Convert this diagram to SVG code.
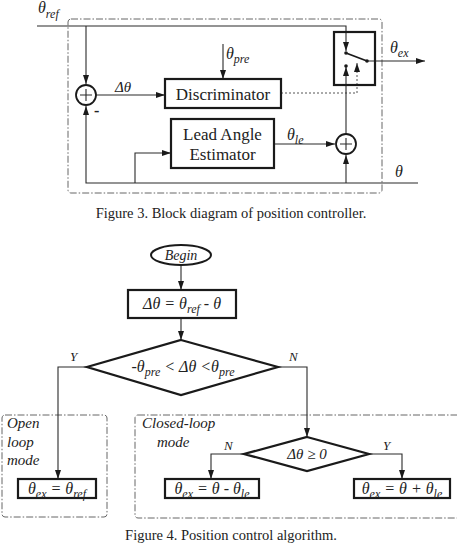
<svg xmlns="http://www.w3.org/2000/svg" width="457" height="549" viewBox="0 0 457 549">
<style>
.ln{fill:none;stroke:#2a2a2a;stroke-width:1.1}
.th{fill:#fff;stroke:#1a1a1a;stroke-width:2.2}
.dd{fill:none;stroke:#666;stroke-width:1;stroke-dasharray:7 2 1.5 2}
.dot{fill:none;stroke:#555;stroke-width:1;stroke-dasharray:2 2}
.t{font-family:"Liberation Serif","Times New Roman",serif;fill:#222}
.i{font-family:"Liberation Serif","Times New Roman",serif;font-style:italic;fill:#222}
.cap{font-family:"Liberation Serif","Times New Roman",serif;fill:#222;font-size:14.5px}
</style>
<defs>
<marker id="ar" markerUnits="userSpaceOnUse" markerWidth="10" markerHeight="8" refX="9" refY="4" orient="auto">
<path d="M0,1 L9,4 L0,7 z" fill="#1a1a1a"/>
</marker>
</defs>

<!-- Figure 3 -->
<rect class="dd" x="68" y="19" width="314" height="174" rx="3"/>

<g id="connectors-fig3">
<path class="ln" d="M37,26 H346 V51" marker-end="url(#ar)"/>
<path class="ln" d="M86,26 V84" marker-end="url(#ar)"/>
<path class="ln" d="M96,95 H165" marker-end="url(#ar)"/>
<path class="ln" d="M223,44 V79" marker-end="url(#ar)"/>
<path class="dot" d="M281,93 H357 V63" marker-end="url(#ar)"/>
<path class="ln" d="M418,183 H86 V106" marker-end="url(#ar)"/>
<path class="ln" d="M135,183 V153 H171" marker-end="url(#ar)"/>
<path class="ln" d="M274,144 H335" marker-end="url(#ar)"/>
<path class="ln" d="M346,183 V155" marker-end="url(#ar)"/>
<path class="ln" d="M346,134 V67" marker-end="url(#ar)"/>
<path class="ln" d="M367,61 H425" marker-end="url(#ar)"/>
</g>

<g id="sum1">
<circle cx="86" cy="95" r="10" fill="#fff" stroke="#1a1a1a" stroke-width="1.8"/>
<path class="ln" d="M80,95 H92 M86,89 V101" stroke-width="0.8"/>
<text class="t" x="94" y="116" font-size="16" font-weight="bold">-</text>
</g>

<g id="discriminator">
<rect class="th" x="165" y="79" width="116" height="29"/>
<text class="t" x="223" y="100" font-size="17" text-anchor="middle">Discriminator</text>
</g>

<g id="lead-angle-estimator">
<rect class="th" x="171" y="119" width="103" height="49"/>
<text class="t" x="222.5" y="140" font-size="17" text-anchor="middle">Lead Angle</text>
<text class="t" x="222.5" y="160" font-size="17" text-anchor="middle">Estimator</text>
</g>

<g id="sum2">
<circle cx="346" cy="144" r="10" fill="#fff" stroke="#1a1a1a" stroke-width="1.8"/>
<path class="ln" d="M340,144 H352 M346,138 V150" stroke-width="0.8"/>
</g>

<g id="switch">
<rect x="334" y="32" width="41" height="53" fill="none" stroke="#1a1a1a" stroke-width="2.2"/>
<line x1="346" y1="53" x2="367" y2="61" stroke="#1a1a1a" stroke-width="1.8"/>
<circle cx="346" cy="53" r="1.8" fill="#1a1a1a"/>
<circle cx="346" cy="66" r="1.8" fill="#1a1a1a"/>
<circle cx="367" cy="61" r="1.8" fill="#1a1a1a"/>
</g>

<g id="labels-fig3">
<text class="i" x="38" y="13" font-size="16">θ<tspan font-size="12" dy="5">ref</tspan></text>
<text class="i" x="115" y="92" font-size="15">Δθ</text>
<text class="i" x="226" y="59" font-size="16">θ<tspan font-size="12" dy="4">pre</tspan></text>
<text class="i" x="390" y="53" font-size="16">θ<tspan font-size="12" dy="4">ex</tspan></text>
<text class="i" x="287" y="140" font-size="16">θ<tspan font-size="12" dy="4">le</tspan></text>
<text class="i" x="395" y="177" font-size="16">θ</text>
</g>

<text class="cap" x="231" y="218" text-anchor="middle">Figure 3. Block diagram of position controller.</text>

<!-- Figure 4 -->
<rect class="dd" x="2" y="415" width="105" height="102" rx="3"/>
<rect class="dd" x="135" y="415" width="330" height="103" rx="3"/>

<g id="connectors-fig4">
<path class="ln" d="M181,265 V290" marker-end="url(#ar)"/>
<path class="ln" d="M181,318 V340" marker-end="url(#ar)"/>
<path class="ln" d="M87,367 H58 V479" marker-end="url(#ar)"/>
<path class="ln" d="M278,367 H307 V437" marker-end="url(#ar)"/>
<path class="ln" d="M244,454 H211 V479" marker-end="url(#ar)"/>
<path class="ln" d="M369,454 H402 V479" marker-end="url(#ar)"/>
<text class="i" x="70" y="361" font-size="13">Y</text>
<text class="i" x="289" y="361" font-size="13">N</text>
<text class="i" x="224" y="450" font-size="13">N</text>
<text class="i" x="383" y="450" font-size="13">Y</text>
</g>

<g id="begin">
<ellipse cx="181" cy="255" rx="30" ry="10" fill="#fff" stroke="#1a1a1a" stroke-width="2"/>
<text class="i" x="181" y="260" font-size="14" text-anchor="middle">Begin</text>
</g>

<g id="compute-delta">
<rect class="th" x="128" y="290" width="108" height="28"/>
<text class="i" x="182" y="309" font-size="16" text-anchor="middle">Δθ = θ<tspan font-size="12" dy="4">ref</tspan><tspan dy="-4"> - θ</tspan></text>
</g>

<g id="decision-range">
<polygon class="th" points="181,340 278,367 181,395 87,367"/>
<text class="i" x="183" y="372" font-size="16" text-anchor="middle">-θ<tspan font-size="12" dy="4">pre</tspan><tspan dy="-4"> &lt; Δθ  &lt;θ</tspan><tspan font-size="12" dy="4">pre</tspan></text>
</g>

<g id="open-loop-label">
<text class="i" x="7" y="428" font-size="15">Open</text>
<text class="i" x="7" y="447" font-size="15">loop</text>
<text class="i" x="7" y="465" font-size="15">mode</text>
</g>

<g id="open-loop-output">
<rect class="th" x="18" y="479" width="78" height="19"/>
<text class="i" x="57" y="494" font-size="16" text-anchor="middle">θ<tspan font-size="12" dy="4">ex</tspan><tspan dy="-4"> =  θ</tspan><tspan font-size="12" dy="4">ref</tspan></text>
</g>

<g id="closed-loop-label">
<text class="i" x="142" y="428" font-size="15">Closed-loop</text>
<text class="i" x="157" y="447" font-size="15">mode</text>
</g>

<g id="decision-sign">
<polygon class="th" points="307,437 369,454 307,471 244,454"/>
<text class="i" x="307" y="459" font-size="15" text-anchor="middle">Δθ ≥ 0</text>
</g>

<g id="output-minus">
<rect class="th" x="165" y="479" width="94" height="19"/>
<text class="i" x="212" y="494" font-size="16" text-anchor="middle">θ<tspan font-size="12" dy="4">ex</tspan><tspan dy="-4"> = θ - θ</tspan><tspan font-size="12" dy="4">le</tspan></text>
</g>

<g id="output-plus">
<rect class="th" x="354" y="479" width="96" height="19"/>
<text class="i" x="402" y="494" font-size="16" text-anchor="middle">θ<tspan font-size="12" dy="4">ex</tspan><tspan dy="-4"> = θ + θ</tspan><tspan font-size="12" dy="4">le</tspan></text>
</g>

<text class="cap" x="231" y="540" text-anchor="middle">Figure 4. Position control algorithm.</text>
</svg>
